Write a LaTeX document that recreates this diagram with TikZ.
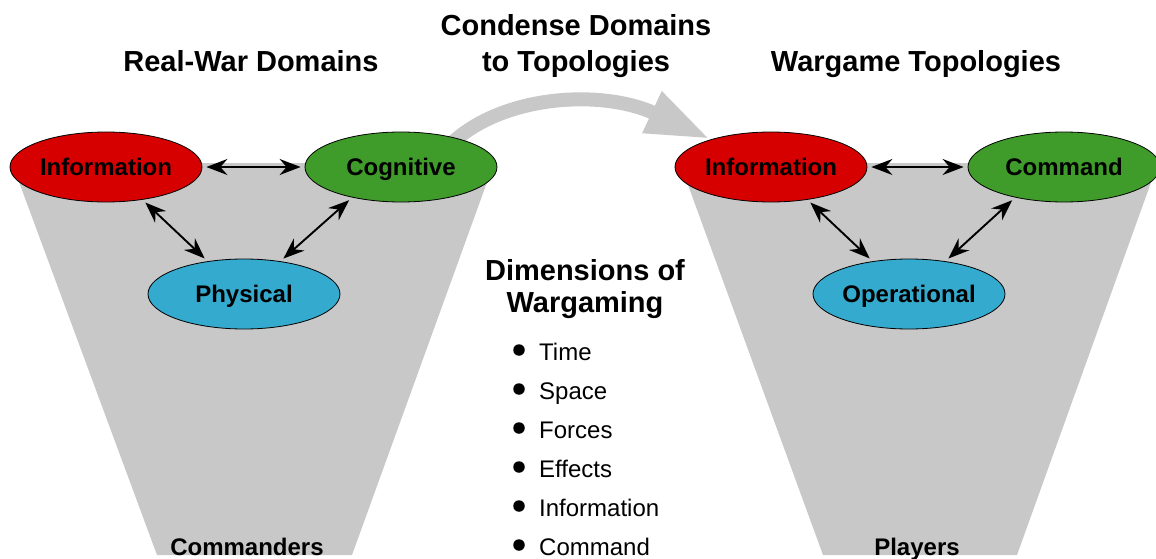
\documentclass[tikz,border=0pt]{standalone}
\usepackage{fontspec}
\setmainfont{Liberation Sans}
\usetikzlibrary{arrows.meta,shapes.geometric}
\definecolor{funnelgray}{HTML}{C8C8C8}
\definecolor{domred}{HTML}{D70000}
\definecolor{domgreen}{HTML}{3F9B2A}
\definecolor{domblue}{HTML}{34AACE}
\begin{document}
\begin{tikzpicture}[x=1pt,y=-1pt,
  dom/.style={ellipse, draw=black, line width=0.8pt, minimum width=192pt, minimum height=70pt, inner sep=0pt, text height=17pt, text depth=0pt, font=\fontsize{24}{28}\selectfont\bfseries},
  link/.style={line width=1.9pt, {Stealth[length=21pt,width=16pt,inset=7pt]}-{Stealth[length=21pt,width=16pt,inset=7pt]}, shorten <=4pt, shorten >=4pt},
  title/.style={font=\fontsize{29}{34}\selectfont\bfseries, anchor=base, inner sep=0pt},
  item/.style={font=\fontsize{24}{28}\selectfont, anchor=base west, inner sep=0pt},
  bdot/.style={circle, fill=black, minimum size=11.5pt, inner sep=0pt},
  foot/.style={font=\fontsize{24}{28}\selectfont\bfseries, anchor=base, inner sep=0pt}]
\useasboundingbox (0,0) rectangle (1156,559);
% funnels
\fill[funnelgray] (12,163) -- (494,163) -- (352,555) -- (157,555) -- cycle;
\fill[funnelgray] (680,163) -- (1158,163) -- (1017,555) -- (823,555) -- cycle;
% condense arrow
\coordinate (cstart) at (445,150);
\coordinate (cend) at (710,139);
\draw[funnelgray, line width=14pt, -{Triangle[length=64pt,width=42pt]}] (cstart) .. controls (495,95) and (600,88) .. (cend);
% domains
\node[dom, fill=domred] (linfo) at (106,167) {Information};
\node[dom, fill=domgreen] (lcog) at (401,167) {Cognitive};
\node[dom, fill=domblue] (lphys) at (244,294) {Physical};
\node[dom, fill=domred] (rinfo) at (771,167) {Information};
\node[dom, fill=domgreen] (rcmd) at (1064,167) {Command};
\node[dom, fill=domblue] (rop) at (909,294) {Operational};
% links
\draw[link] (linfo.east) -- (lcog.west);
\draw[link] (linfo.318) -- (lphys.138);
\draw[link] (lcog.212) -- (lphys.42);
\draw[link] (rinfo.east) -- (rcmd.west);
\draw[link] (rinfo.318) -- (rop.138);
\draw[link] (rcmd.212) -- (rop.42);
% titles
\node[title] (t1) at (251,72) {Real-War Domains};
\node[title] (t2a) at (576,36) {Condense Domains};
\node[title] (t2b) at (576,72) {to Topologies};
\node[title] (t3) at (916,72) {Wargame Topologies};
\node[title] (d1) at (585,280) {Dimensions of};
\node[title] (d2) at (585,312) {Wargaming};
% list
\foreach \t [count=\i] in {Time,Space,Forces,Effects,Information,Command} {
  \node[bdot] (b\i) at (519,{350+39*(\i-1)}) {};
  \node[item] (i\i) at (539,{360+39*(\i-1)}) {\t};
}
% footers
\node[foot] (fc) at (247,555) {Commanders};
\node[foot] (fp) at (917,555) {Players};
\end{tikzpicture}
\end{document}
